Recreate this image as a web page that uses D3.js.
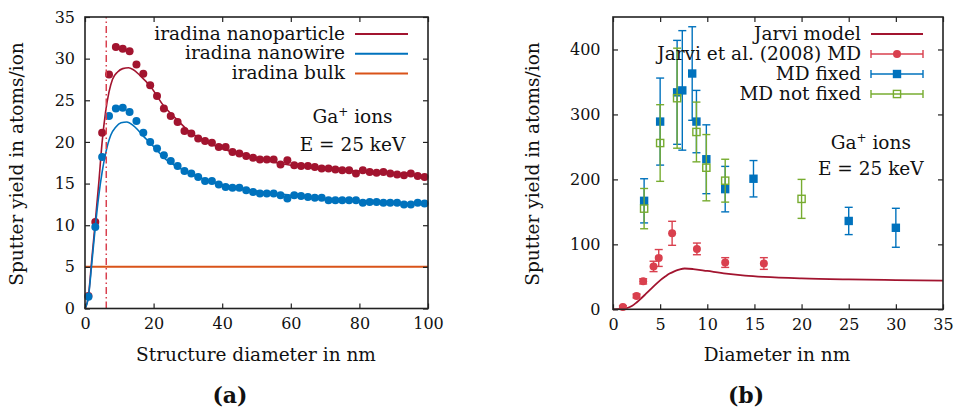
<!DOCTYPE html>
<html>
<head>
<meta charset="utf-8">
<script src="https://cdn.jsdelivr.net/npm/d3@7"></script>
<style>
  body { margin: 0; background: #fff; }
  svg text { font-family: "DejaVu Serif", serif; fill: #111; }
</style>
</head>
<body>
<svg id="chart" width="957" height="414"></svg>
<script>
// ---------- Panel (a): iradina simulations ----------
const diameters = [1, 3, 5, 7, 9, 11, 13, 15, 17, 19, 21, 23, 25, 27, 29, 31, 33, 35, 37, 39,
  41, 43, 45, 47, 49, 51, 53, 55, 57, 59, 61, 63, 65, 67, 69, 71, 73, 75, 77, 79,
  81, 83, 85, 87, 89, 91, 93, 95, 97, 99];
const nanoparticleYield = [1.5, 10.4, 21.1, 28.1, 31.4, 31.2, 30.9, 29.3, 28.2, 26.8, 25.5, 24.0, 23.1, 22.4, 21.3, 21.0, 20.4, 20.1, 19.9, 19.4,
  19.4, 18.8, 18.6, 18.3, 18.1, 17.9, 17.9, 17.9, 17.3, 17.8, 17.2, 17.1, 17.1, 17.0, 16.8, 16.8, 16.7, 16.6, 16.6, 16.2,
  16.6, 16.4, 16.3, 16.4, 16.2, 16.1, 16.0, 16.2, 15.9, 15.8];
const nanowireYield = [1.4, 9.8, 18.2, 23.1, 24.0, 24.1, 23.6, 22.5, 21.1, 20.0, 19.2, 18.4, 17.7, 17.1, 16.5, 16.2, 15.8, 15.3, 15.3, 14.9,
  14.6, 14.5, 14.5, 14.2, 14.0, 13.8, 13.8, 13.8, 13.6, 13.2, 13.6, 13.5, 13.4, 13.3, 13.3, 13.0, 13.0, 13.0, 13.0, 13.0,
  12.7, 12.8, 12.8, 12.7, 12.7, 12.7, 12.5, 12.5, 12.7, 12.6];

// fitted model curves (diameter, yield)
const nanoparticleFitX = [0, 1, 2, 3, 4, 5, 6, 7, 8, 9.5, 11, 12.7, 14, 16, 19.2, 23, 27, 30, 35, 40, 50, 60, 70, 80, 90, 100];
const nanoparticleFitY = [0, 1.5, 6, 10.4, 15, 20, 23.6, 26, 27.5, 28.4, 28.8, 28.9, 28.7, 28.0, 26.6, 24.3, 22.6, 21.4, 20.1, 19.2, 18.0, 17.2, 16.8, 16.5, 16.2, 15.9];
const nanowireFitX = [0, 1, 2, 3, 4, 5, 6, 7.5, 9, 10.5, 12.2, 14, 15.3, 17, 19.2, 21, 23, 27, 30, 35, 40, 50, 60, 70, 80, 90, 100];
const nanowireFitY = [0, 1.4, 5.5, 9.8, 13.5, 16.4, 18.6, 20.8, 21.8, 22.3, 22.4, 22.0, 21.5, 20.7, 19.8, 19.0, 18.1, 17.0, 16.3, 15.5, 14.9, 14.1, 13.6, 13.2, 12.9, 12.7, 12.5];
const bulkYield = 5.0;
const markerDiameter = 6.2;

const xTicksA = [0, 20, 40, 60, 80, 100];
const yTicksA = [0, 5, 10, 15, 20, 25, 30, 35];

// ---------- Panel (b): comparison with MD ----------
const jarviModelX = [0, 1, 1.5, 2, 2.5, 3, 3.5, 4, 4.5, 5, 5.5, 6, 6.5, 7, 7.6, 8.5, 10, 12, 14, 16, 20, 25, 30, 35];
const jarviModelY = [0, 0.5, 2, 5, 10.5, 17, 24, 31, 38, 44.5, 50, 55, 58.5, 61, 62.8, 62, 59, 55, 52, 50, 47.6, 46, 45, 44];

const jarviMdX = [1.05, 2.5, 3.2, 4.3, 4.85, 6.27, 8.9, 11.9, 16.0];
const jarviMdY = [3.5, 20.5, 43, 66, 79, 117, 93, 72, 70.5];
const jarviMdErr = [2, 3, 4, 8, 13, 18.5, 9, 7.5, 9];

const mdFixedX = [3.3, 5, 6.8, 7.35, 8.4, 8.85, 9.9, 11.9, 14.9, 25, 30];
const mdFixedY = [167, 289, 334, 337, 363, 289, 231, 185, 201, 136, 125.5];
const mdFixedErr = [34, 67, 80, 92, 72, 48, 53, 35, 28, 21, 30];

const mdFreeX = [3.3, 5, 6.8, 8.85, 9.9, 11.9, 20];
const mdFreeY = [155, 256, 325, 273, 218, 198, 170];
const mdFreeErr = [31, 59, 77, 46, 51, 33, 30];

const xTicksB = [0, 5, 10, 15, 20, 25, 30, 35];
const yTicksB = [0, 100, 200, 300, 400];

// ---------- styling ----------
const C = {
  nanoparticle: "#A2142F",
  nanowire: "#0072BD",
  bulk: "#D95319",
  jarviMd: "#D9404E",
  mdFree: "#77AC30",
  frame: "#222"
};
const TICK_FONT = 16;
const LABEL_FONT = 18.5;

const svg = d3.select("#chart");

function frame(g, x, y, xTicks, yTicks, yPad) {
  const [x0, x1] = x.range();
  const [y0, y1] = y.range();
  const mk = (sel) => sel.call(s => s.select(".domain").remove())
    .call(s => s.selectAll(".tick line").attr("stroke", C.frame).attr("stroke-width", 1.2))
    .call(s => s.selectAll(".tick text").attr("font-size", TICK_FONT).attr("fill", "#111")
      .attr("font-family", '"DejaVu Serif", serif'));
  g.append("g").attr("transform", `translate(0,${y0})`)
    .call(d3.axisBottom(x).tickValues(xTicks).tickSizeInner(-5).tickSizeOuter(0).tickPadding(9)).call(mk);
  g.append("g").attr("transform", `translate(0,${y1})`)
    .call(d3.axisTop(x).tickValues(xTicks).tickSizeInner(-5).tickSizeOuter(0).tickFormat("")).call(mk);
  g.append("g").attr("transform", `translate(${x0},0)`)
    .call(d3.axisLeft(y).tickValues(yTicks).tickSizeInner(-5).tickSizeOuter(0).tickPadding(yPad)).call(mk);
  g.append("g").attr("transform", `translate(${x1},0)`)
    .call(d3.axisRight(y).tickValues(yTicks).tickSizeInner(-5).tickSizeOuter(0).tickFormat("")).call(mk);
  g.append("rect").attr("x", x0).attr("y", y1).attr("width", x1 - x0).attr("height", y0 - y1)
    .attr("fill", "none").attr("stroke", C.frame).attr("stroke-width", 1.6);
}

function yTitle(cx, cy, text) {
  svg.append("text").attr("transform", `translate(${cx},${cy}) rotate(-90)`)
    .attr("text-anchor", "middle").attr("dy", "0.35em").attr("font-size", LABEL_FONT).text(text);
}
function gaLabel(cx, y1, y2) {
  const t = svg.append("text").attr("x", cx).attr("y", y1).attr("text-anchor", "middle").attr("font-size", LABEL_FONT);
  t.append("tspan").text("Ga");
  t.append("tspan").attr("dy", -7).attr("font-size", 12).text("+");
  t.append("tspan").attr("dy", 7).text(" ions");
  svg.append("text").attr("x", cx).attr("y", y2).attr("text-anchor", "middle").attr("font-size", LABEL_FONT)
    .text("E = 25 keV");
}

// ================= Panel (a) =================
const xa = d3.scaleLinear().domain([0, 100]).range([85, 428]);
const ya = d3.scaleLinear().domain([0, 35]).range([308.5, 17]);
const ga = svg.append("g");

const lineA = d3.line().x(d => xa(d[0])).y(d => ya(d[1])).curve(d3.curveMonotoneX);

ga.append("line").attr("x1", xa(0)).attr("x2", xa(100)).attr("y1", ya(bulkYield)).attr("y2", ya(bulkYield))
  .attr("stroke", C.bulk).attr("stroke-width", 2);

ga.append("g").selectAll("circle").data(diameters.map((d, i) => [d, nanoparticleYield[i]])).join("circle")
  .attr("cx", d => xa(d[0])).attr("cy", d => ya(d[1])).attr("r", 4).attr("fill", C.nanoparticle);
ga.append("path").datum(nanoparticleFitX.map((d, i) => [d, nanoparticleFitY[i]])).attr("d", lineA)
  .attr("fill", "none").attr("stroke", C.nanoparticle).attr("stroke-width", 1.6);

ga.append("g").selectAll("circle").data(diameters.map((d, i) => [d, nanowireYield[i]])).join("circle")
  .attr("cx", d => xa(d[0])).attr("cy", d => ya(d[1])).attr("r", 4).attr("fill", C.nanowire);
ga.append("path").datum(nanowireFitX.map((d, i) => [d, nanowireFitY[i]])).attr("d", lineA)
  .attr("fill", "none").attr("stroke", C.nanowire).attr("stroke-width", 1.6);

ga.append("line").attr("x1", xa(markerDiameter)).attr("x2", xa(markerDiameter)).attr("y1", ya(0)).attr("y2", ya(35))
  .attr("stroke", C.jarviMd).attr("stroke-width", 1.5).attr("stroke-dasharray", "7,3,1.5,3");

frame(ga, xa, ya, xTicksA, yTicksA, 10);

// legend (a)
const legA = [["iradina nanoparticle", C.nanoparticle], ["iradina nanowire", C.nanowire], ["iradina bulk", C.bulk]];
legA.forEach(([label, col], i) => {
  const y = 34 + i * 19.7;
  ga.append("text").attr("x", 345).attr("y", y).attr("dy", "0.3em").attr("text-anchor", "end")
    .attr("font-size", LABEL_FONT).text(label);
  ga.append("line").attr("x1", 355).attr("x2", 408).attr("y1", y).attr("y2", y)
    .attr("stroke", col).attr("stroke-width", 2);
});
gaLabel(352.5, 123, 150.5);

svg.append("text").attr("x", 256).attr("y", 361).attr("text-anchor", "middle").attr("font-size", LABEL_FONT)
  .text("Structure diameter in nm");
yTitle(17, 164, "Sputter yield in atoms/ion");
svg.append("text").attr("x", 230).attr("y", 403).attr("text-anchor", "middle").attr("font-size", 22)
  .attr("font-weight", "bold").text("(a)");

// ================= Panel (b) =================
const xb = d3.scaleLinear().domain([0, 35]).range([613, 943]);
const yb = d3.scaleLinear().domain([0, 450]).range([309.3, 17]);
const gb = svg.append("g");

const lineB = d3.line().x(d => xb(d[0])).y(d => yb(d[1])).curve(d3.curveMonotoneX);
gb.append("path").datum(jarviModelX.map((d, i) => [d, jarviModelY[i]])).attr("d", lineB)
  .attr("fill", "none").attr("stroke", C.nanoparticle).attr("stroke-width", 1.8);

function errorSeries(xs, ys, es, col, marker) {
  const g = gb.append("g");
  const data = xs.map((d, i) => ({ x: d, y: ys[i], e: es[i] }));
  const cap = 4;
  data.forEach(d => {
    const px = xb(d.x), lo = yb(d.y - d.e), hi = yb(d.y + d.e);
    g.append("line").attr("x1", px).attr("x2", px).attr("y1", lo).attr("y2", hi).attr("stroke", col).attr("stroke-width", 1.4);
    [lo, hi].forEach(yy => g.append("line").attr("x1", px - cap).attr("x2", px + cap).attr("y1", yy).attr("y2", yy)
      .attr("stroke", col).attr("stroke-width", 1.4));
  });
  data.forEach(d => drawMarker(g, xb(d.x), yb(d.y), col, marker));
}
function drawMarker(g, px, py, col, marker) {
  if (marker === "circle") {
    g.append("circle").attr("cx", px).attr("cy", py).attr("r", 4).attr("fill", col);
  } else if (marker === "square") {
    g.append("rect").attr("x", px - 4.2).attr("y", py - 4.2).attr("width", 8.4).attr("height", 8.4).attr("fill", col);
  } else {
    g.append("rect").attr("x", px - 3.6).attr("y", py - 3.6).attr("width", 7.2).attr("height", 7.2)
      .attr("fill", "none").attr("stroke", col).attr("stroke-width", 1.4);
  }
}

errorSeries(jarviMdX, jarviMdY, jarviMdErr, C.jarviMd, "circle");
errorSeries(mdFixedX, mdFixedY, mdFixedErr, C.nanowire, "square");
errorSeries(mdFreeX, mdFreeY, mdFreeErr, C.mdFree, "open");

frame(gb, xb, yb, xTicksB, yTicksB, 12.5);

// legend (b)
const legB = [["Jarvi model", C.nanoparticle, null], ["Jarvi et al. (2008) MD", C.jarviMd, "circle"],
  ["MD fixed", C.nanowire, "square"], ["MD not fixed", C.mdFree, "open"]];
legB.forEach(([label, col, marker], i) => {
  const y = 34 + i * 20;
  gb.append("text").attr("x", 861).attr("y", y).attr("dy", "0.3em").attr("text-anchor", "end")
    .attr("font-size", LABEL_FONT).text(label);
  const x1 = 871, x2 = 923;
  gb.append("line").attr("x1", x1).attr("x2", x2).attr("y1", y).attr("y2", y)
    .attr("stroke", col).attr("stroke-width", marker ? 1.4 : 2);
  if (marker) {
    [x1, x2].forEach(xx => gb.append("line").attr("x1", xx).attr("x2", xx).attr("y1", y - 4).attr("y2", y + 4)
      .attr("stroke", col).attr("stroke-width", 1.4));
    drawMarker(gb, (x1 + x2) / 2, y, col, marker);
  }
});
gaLabel(870.8, 148.5, 175);

svg.append("text").attr("x", 777).attr("y", 361).attr("text-anchor", "middle").attr("font-size", LABEL_FONT)
  .text("Diameter in nm");
yTitle(533, 164, "Sputter yield in atoms/ion");
svg.append("text").attr("x", 746).attr("y", 403).attr("text-anchor", "middle").attr("font-size", 22)
  .attr("font-weight", "bold").text("(b)");
</script>
</body>
</html>
